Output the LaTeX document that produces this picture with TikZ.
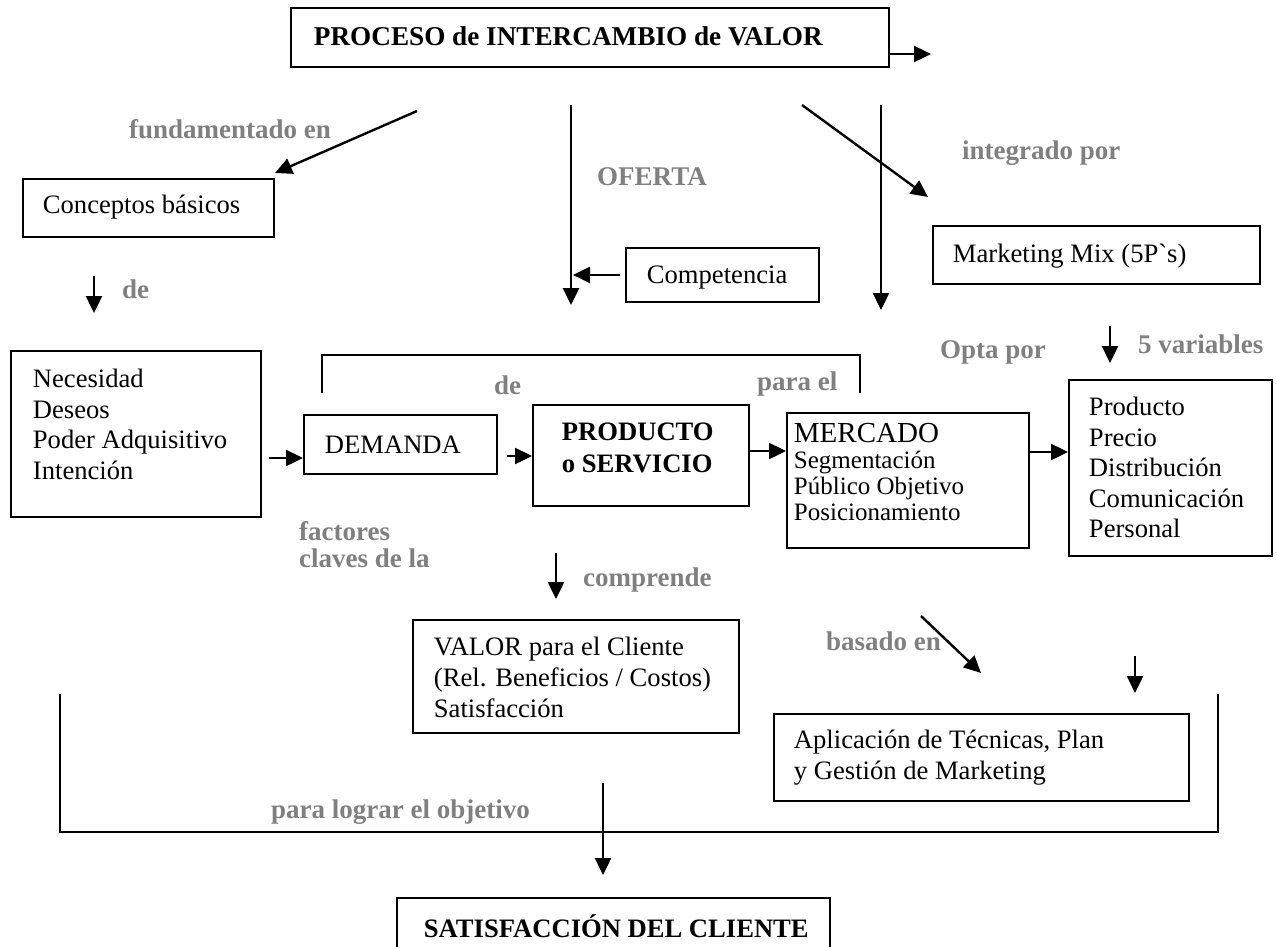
\documentclass[tikz,border=0pt]{standalone}
\usepackage{fontspec}
\setmainfont{Liberation Serif}
\usetikzlibrary{arrows.meta,calc}
\definecolor{lblgray}{RGB}{128,128,128}
% #1 width, #2 height, #3 left pad, #4 first baseline offset, #5 content
\newcommand{\bt}[5]{\parbox[c][#2][t]{#1}{\leftskip=#3\relax\rule{0pt}{#4}\ignorespaces#5}}
\begin{document}
\begin{tikzpicture}[x=1pt,y=-1pt,
  box/.style={draw, line width=1.9pt, inner sep=0pt, anchor=north west,
    font=\fontsize{26.6}{30.5}\selectfont},
  lbl/.style={text=lblgray, font=\fontsize{27}{27}\selectfont\bfseries,
    inner sep=0pt, anchor=base west},
  arr/.style={line width=2.4pt, -{Triangle[length=17pt,width=16pt]}},
  ln/.style={line width=1.9pt}]
\useasboundingbox (0,0) rectangle (1277,946);

% top
\node[box] (T) at (290,7) {\bt{598pt}{59pt}{23pt}{38pt}{\bfseries\fontsize{27.2}{30}\selectfont PROCESO de INTERCAMBIO de VALOR}};
\coordinate (tA) at (931,54);
\draw[arr] (T.east |- tA) -- (tA);

% fundamentado en
\coordinate (f1) at (417,111);
\coordinate (f2) at (275,173);
\draw[arr] (f1) -- (f2);
\node[lbl] (lfund) at (129,138) {fundamentado en};

\node[box] (C) at (22,178) {\bt{251pt}{58pt}{20pt}{35pt}{Conceptos básicos}};
\coordinate (d1) at (94,276);
\coordinate (d2) at (94,313);
\draw[arr] (d1) -- (d2);
\node[lbl] (lde1) at (122,298) {de};

% left box
\node[box] (N) at (10,350) {\bt{250pt}{166pt}{22pt}{37pt}{Necesidad\\Deseos\\Poder Adquisitivo\\Intención}};

% DEMANDA
\node[box] (D) at (303,414) {\bt{193pt}{59pt}{21pt}{39pt}{DEMANDA}};
\coordinate (nd) at ($(N.east |- 0,458)+(7,0)$);
\draw[arr] (nd) -- (D.west |- nd);

% PRODUCTO
\node[box] (P) at (532,404) {\bt{216pt}{101pt}{29pt}{36pt}{\bfseries\fontsize{26.6}{32}\selectfont PRODUCTO\\o SERVICIO}};
\coordinate (dp) at ($(D.east |- 0,456)+(9,0)$);
\draw[arr] (dp) -- (P.west |- dp);

% MERCADO
\node[box] (R) at (786,412) {\bt{242pt}{135pt}{7pt}{30pt}{\fontsize{29}{26}\selectfont MERCADO\\\fontsize{25}{26}\selectfont Segmentación\\Público Objetivo\\Posicionamiento}};
\coordinate (pr) at (P.east |- 0,451);
\draw[arr] (pr) -- (R.west |- pr);

% right box
\node[box] (S) at (1068,379) {\bt{203pt}{176pt}{20pt}{36pt}{Producto\\Precio\\Distribución\\Comunicación\\Personal}};
\coordinate (rs) at (R.east |- 0,452);
\draw[arr] (rs) -- (S.west |- rs);

% bracket over demanda..mercado
\coordinate (b1) at (322,393);
\coordinate (b2) at (860,393);
\draw[ln] (b1) -- ++(0,-38) -| (b2);
\node[lbl] (lde2) at (494,394) {de};
\node[lbl] (lpara) at (757,390) {para el};

% oferta
\coordinate (v1a) at (571,105);
\coordinate (v1b) at (571,305);
\draw[arr] (v1a) -- (v1b);
\node[lbl] (lof) at (597,185) {OFERTA};
\node[box] (K) at (625,247) {\bt{193pt}{54pt}{21pt}{36pt}{Competencia}};
\coordinate (kv) at ($(v1a |- K.west)+(2,0)$);
\draw[arr] ($(K.west)+(-5,0)$) -- (kv);

% integrado por
\coordinate (i1) at (802,105);
\coordinate (i2) at (928,197);
\draw[arr] (i1) -- (i2);
\node[lbl] (lint) at (962,159) {integrado por};
\coordinate (v2a) at (881,105);
\coordinate (v2b) at (881,310);
\draw[arr] (v2a) -- (v2b);
\node[box] (M) at (932,225) {\bt{327pt}{58pt}{20pt}{37pt}{Marketing Mix (5P\textasciigrave s)}};
\node[lbl] (lopta) at (940,358) {Opta por};
\coordinate (m1) at (1110,326);
\coordinate (m2) at (1110,363);
\draw[arr] (m1) -- (m2);
\node[lbl] (l5v) at (1138,353) {5 variables};

% factores
\node[lbl] (lfac1) at (299,540) {factores};
\node[lbl] (lfac2) at (299,567) {claves de la};

% comprende
\coordinate (c1) at (556,553);
\node[box] (V) at (412,619) {\bt{326pt}{113pt}{21pt}{36pt}{\fontsize{26.6}{31}\selectfont VALOR para el Cliente\\(Rel. Beneficios / Costos)\\Satisfacción}};
\coordinate (c2) at (556,599);
\draw[arr] (c1) -- (c2);
\node[lbl] (lcomp) at (583,586) {comprende};

% basado en
\node[lbl] (lbas) at (826,650) {basado en};
\coordinate (e1) at (921,616);
\coordinate (e2) at (981,673);
\draw[arr] (e1) -- (e2);
\coordinate (g1) at (1135,656);
\coordinate (g2) at (1135,693);
\draw[arr] (g1) -- (g2);
\node[box] (A) at (773,713) {\bt{415pt}{87pt}{20pt}{35pt}{Aplicación de Técnicas, Plan\\y Gestión de Marketing}};

% big bracket
\coordinate (h1) at (60,694);
\coordinate (h2) at (1218,694);
\draw[ln] (h1) -- ++(0,138) -| (h2);
\node[lbl] (llog) at (271,818) {para lograr el objetivo};

% final
\node[box] (B) at (396,897) {\bt{433pt}{60pt}{27pt}{40pt}{\bfseries SATISFACCIÓN DEL CLIENTE}};
\coordinate (j1) at (603,783);
\coordinate (j2) at (603,875);
\draw[arr] (j1) -- (j2);
\end{tikzpicture}
\end{document}
